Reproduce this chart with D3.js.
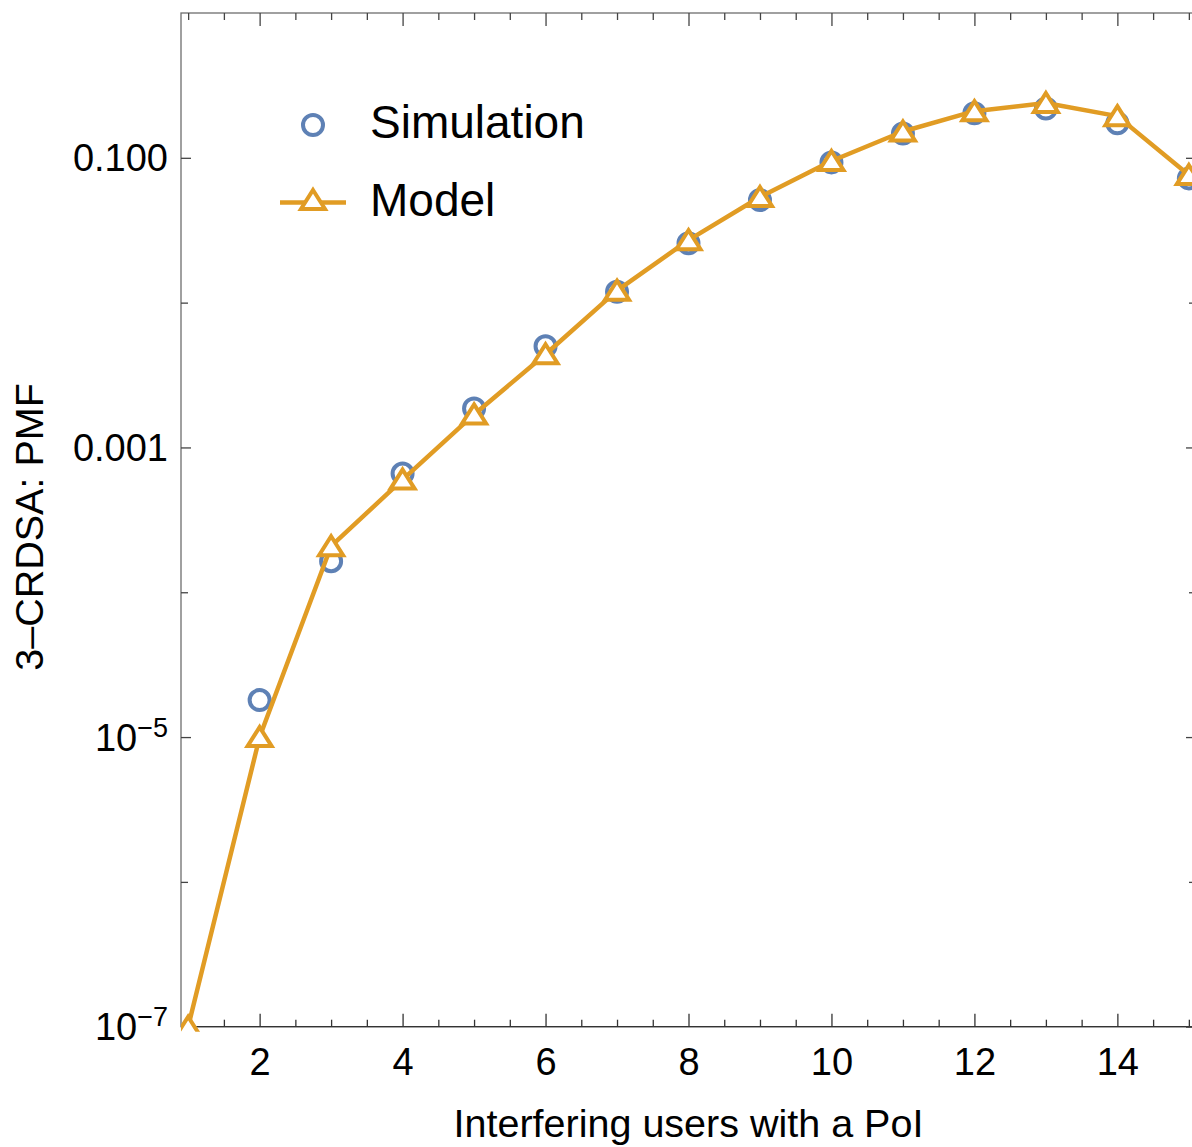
<!doctype html>
<html lang="en">
  <head>
    <meta charset="utf-8">
    <title>3-CRDSA PMF</title>
    <script src="https://d3js.org/d3.v7.min.js"></script>
    <style>
      body { margin: 0; background: white; }
      svg text { font-family: "Liberation Sans", Arial, sans-serif; fill: black; }
    </style>
  </head>
  <body>
    <svg></svg>
    <script>
      // data
      var users = [1, 2, 3, 4, 5, 6, 7, 8, 9, 10, 11, 12, 13, 14, 15];
      var simulation = [null, 1.8e-5, 1.64e-4, 6.6e-4, 1.86e-3, 5.0e-3, 0.0119, 0.0257, 0.0511, 0.093, 0.147, 0.203, 0.219, 0.173, 0.0721];
      var model = [1e-7, 1.0e-5, 2.08e-4, 6.0e-4, 1.69e-3, 4.4e-3, 0.0121, 0.027, 0.0536, 0.095, 0.152, 0.21, 0.239, 0.194, 0.076];

      var xMajor = [2, 4, 6, 8, 10, 12, 14];
      var xMinor = [1, 1.5, 2.5, 3, 3.5, 4.5, 5, 5.5, 6.5, 7, 7.5, 8.5, 9, 9.5, 10.5, 11, 11.5, 12.5, 13, 13.5, 14.5, 15];
      var yMajor = [1e-1, 1e-3, 1e-5, 1e-7];
      var yMajorLabels = [["0.100", null], ["0.001", null], ["10", "\u22125"], ["10", "\u22127"]];
      var yMinor = [1e-2, 1e-4, 1e-6];

      var seriesNames = ["Simulation", "Model"];
      var blue = "#5E81B5", orange = "#E19C24";

      var W = 1192, H = 1147;
      var pLeft = 181, pRight = 1196, pTop = 13, pBottom = 1026.7;

      var svg = d3.select("svg").attr("width", W).attr("height", H);

      var x = d3.scaleLinear().domain([0.9, 15.1]).range([pLeft, pRight]);
      var y = d3.scaleLog().domain([1e-7, 1]).range([pBottom, pTop]);

      svg.append("clipPath").attr("id", "clip")
        .append("rect").attr("x", pLeft).attr("y", pTop).attr("width", pRight - pLeft).attr("height", pBottom - pTop + 5);

      // frame
      svg.append("rect")
        .attr("x", pLeft).attr("y", pTop)
        .attr("width", pRight - pLeft).attr("height", pBottom - pTop)
        .attr("fill", "none").attr("stroke", "#6e6e6e").attr("stroke-width", 1.3);
      svg.append("line")
        .attr("x1", pLeft).attr("x2", pRight).attr("y1", pBottom).attr("y2", pBottom)
        .attr("stroke", "#333").attr("stroke-width", 1.3);

      function styleAxis(g, col) {
        g.select(".domain").remove();
        g.selectAll(".tick line").attr("stroke", col).attr("stroke-width", 1.3);
      }

      // bottom axis (labels) + top mirrored
      svg.append("g").attr("transform", "translate(0," + pBottom + ")")
        .call(d3.axisBottom(x).tickValues(xMajor).tickSize(-13).tickPadding(21).tickFormat(d3.format("d")))
        .call(styleAxis, "#333")
        .selectAll("text").attr("font-size", 38).attr("fill", "black").attr("dy", "0.71em");
      svg.append("g").attr("transform", "translate(0," + pBottom + ")")
        .call(d3.axisBottom(x).tickValues(xMinor).tickSize(-7).tickFormat(""))
        .call(styleAxis, "#333");
      svg.append("g").attr("transform", "translate(0," + pTop + ")")
        .call(d3.axisTop(x).tickValues(xMajor).tickSize(-13).tickFormat(""))
        .call(styleAxis, "#444");
      svg.append("g").attr("transform", "translate(0," + pTop + ")")
        .call(d3.axisTop(x).tickValues(xMinor).tickSize(-7).tickFormat(""))
        .call(styleAxis, "#444");

      // left axis + right mirrored
      svg.append("g").attr("transform", "translate(" + pLeft + ",0)")
        .call(d3.axisLeft(y).tickValues(yMajor).tickSize(-10).tickFormat(""))
        .call(styleAxis, "#444");
      svg.append("g").attr("transform", "translate(" + pLeft + ",0)")
        .call(d3.axisLeft(y).tickValues(yMinor).tickSize(-7).tickFormat(""))
        .call(styleAxis, "#444");
      svg.append("g").attr("transform", "translate(" + pRight + ",0)")
        .call(d3.axisRight(y).tickValues(yMajor).tickSize(-10).tickFormat(""))
        .call(styleAxis, "#444");
      svg.append("g").attr("transform", "translate(" + pRight + ",0)")
        .call(d3.axisRight(y).tickValues(yMinor).tickSize(-7).tickFormat(""))
        .call(styleAxis, "#444");

      yMajor.forEach(function(v, i) {
        var lab = yMajorLabels[i];
        var t = svg.append("text")
          .attr("x", 168).attr("y", y(v) + 13.5)
          .attr("text-anchor", "end").attr("font-size", 38);
        if (lab[1] == null) {
          t.text(lab[0]);
        } else {
          t.append("tspan").text(lab[0]);
          t.append("tspan").attr("font-size", 27).attr("dy", -14).text(lab[1]);
        }
      });

      // axis titles
      svg.append("text")
        .attr("x", (pLeft + pRight) / 2).attr("y", 1137)
        .attr("text-anchor", "middle").attr("font-size", 39.5)
        .text("Interfering users with a PoI");
      svg.append("text")
        .attr("transform", "translate(43,527) rotate(-90)")
        .attr("text-anchor", "middle").attr("font-size", 39.5)
        .text("3\u2013CRDSA: PMF");

      var tri = "M0,-10L12,9L-12,9Z";

      var plot = svg.append("g").attr("clip-path", "url(#clip)");

      // simulation circles
      var simPts = users.map(function(u, i) { return [u, simulation[i]]; })
        .filter(function(d) { return d[1] != null; });
      plot.selectAll(".sim").data(simPts).enter()
        .append("circle")
        .attr("class", "sim")
        .attr("cx", function(d) { return x(d[0]); })
        .attr("cy", function(d) { return y(d[1]); })
        .attr("r", 10)
        .attr("fill", "white")
        .attr("stroke", blue)
        .attr("stroke-width", 4);

      // model line + triangles
      var modelPts = users.map(function(u, i) { return [u, model[i]]; });
      var line = d3.line()
        .x(function(d) { return x(d[0]); })
        .y(function(d) { return y(d[1]); });
      plot.append("path")
        .datum(modelPts)
        .attr("d", line)
        .attr("fill", "none")
        .attr("stroke", orange)
        .attr("stroke-width", 4.5)
        .attr("stroke-linejoin", "round");
      plot.selectAll(".mod").data(modelPts).enter()
        .append("path")
        .attr("class", "mod")
        .attr("d", tri)
        .attr("transform", function(d) { return "translate(" + x(d[0]) + "," + y(d[1]) + ")"; })
        .attr("fill", "white")
        .attr("stroke", orange)
        .attr("stroke-width", 4);

      // legend
      var leg = svg.append("g");
      leg.append("circle").attr("cx", 313).attr("cy", 125).attr("r", 10)
        .attr("fill", "white").attr("stroke", blue).attr("stroke-width", 4);
      leg.append("text").attr("x", 370).attr("y", 138).attr("font-size", 46).text(seriesNames[0]);
      leg.append("line").attr("x1", 280).attr("x2", 346).attr("y1", 202.5).attr("y2", 202.5)
        .attr("stroke", orange).attr("stroke-width", 4.5);
      leg.append("path").attr("d", tri).attr("transform", "translate(313,200)")
        .attr("fill", "white").attr("stroke", orange).attr("stroke-width", 4);
      leg.append("text").attr("x", 370).attr("y", 216).attr("font-size", 46).text(seriesNames[1]);
    </script>
  </body>
</html>
